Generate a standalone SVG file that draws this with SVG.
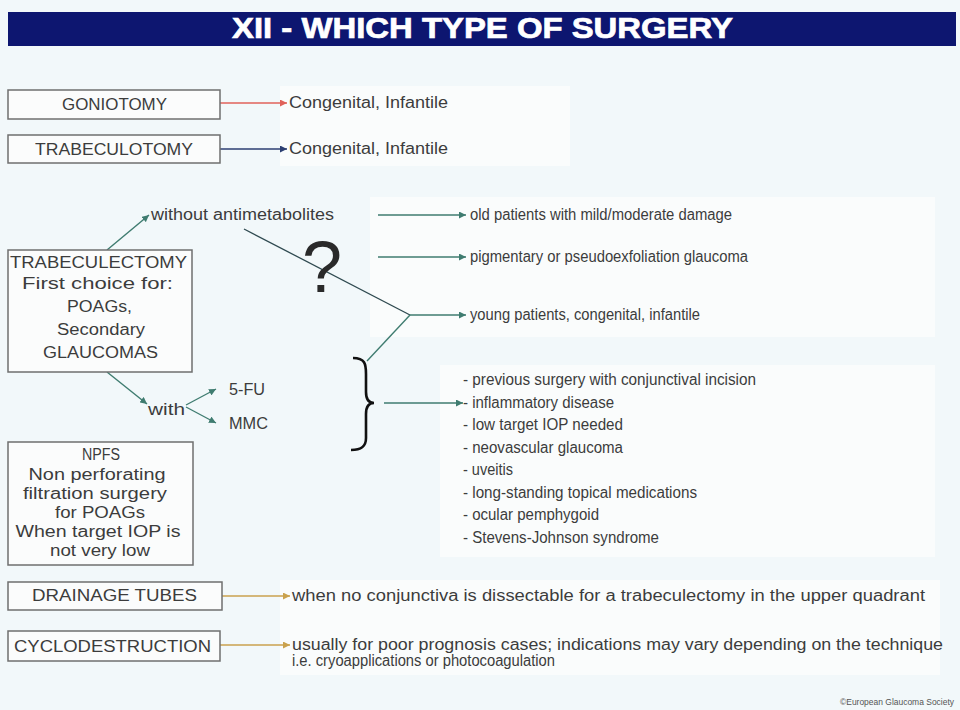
<svg xmlns="http://www.w3.org/2000/svg" width="960" height="710" viewBox="0 0 960 710">
<style>
  .bg { fill: #f2f8fa; }
  .pane { fill: #fafcfc; }
  .box { fill: #fbfcfc; stroke: #6f6f6f; stroke-width: 1.5; }
  .t { font-family: "Liberation Sans", Arial, sans-serif; font-size: 16px; fill: #3c3c3c; }
  .c { text-anchor: middle; }
  .title { font-family: "Liberation Sans", Arial, sans-serif; font-size: 30px; font-weight: bold; fill: #ffffff; stroke: #ffffff; stroke-width: 0.7; }
  .teal { stroke: #3f7c70; stroke-width: 1.4; fill: none; }
  .red { stroke: #e0625a; stroke-width: 1.4; fill: none; }
  .blue { stroke: #2c3f72; stroke-width: 1.4; fill: none; }
  .gold { stroke: #caa24e; stroke-width: 1.4; fill: none; }
  .dark { stroke: #2f4a50; stroke-width: 1.3; fill: none; }
</style>
<defs>
  <marker id="aTeal" viewBox="0 0 10 10" refX="10" refY="5" markerWidth="7" markerHeight="7" markerUnits="userSpaceOnUse" orient="auto"><path d="M0,0 L10,5 L0,10 z" fill="#3f7c70"/></marker>
  <marker id="aRed" viewBox="0 0 10 10" refX="10" refY="5" markerWidth="7" markerHeight="7" markerUnits="userSpaceOnUse" orient="auto"><path d="M0,0 L10,5 L0,10 z" fill="#e0625a"/></marker>
  <marker id="aBlue" viewBox="0 0 10 10" refX="10" refY="5" markerWidth="7" markerHeight="7" markerUnits="userSpaceOnUse" orient="auto"><path d="M0,0 L10,5 L0,10 z" fill="#2c3f72"/></marker>
  <marker id="aGold" viewBox="0 0 10 10" refX="10" refY="5" markerWidth="7" markerHeight="7" markerUnits="userSpaceOnUse" orient="auto"><path d="M0,0 L10,5 L0,10 z" fill="#caa24e"/></marker>
</defs>

<rect class="bg" x="0" y="0" width="960" height="710"/>
<rect class="pane" x="280" y="86" width="290" height="80"/>
<rect class="pane" x="370" y="197" width="565" height="140"/>
<rect class="pane" x="440" y="365" width="495" height="192"/>
<rect class="pane" x="280" y="580" width="660" height="95"/>

<g id="title">
  <rect x="8" y="12" width="948" height="34" fill="#0d1670"/>
  <text class="title" x="232" y="38" textLength="501" lengthAdjust="spacingAndGlyphs">XII - WHICH TYPE OF SURGERY</text>
</g>

<g id="connectors">
  <line class="red" x1="220" y1="103" x2="287" y2="103" marker-end="url(#aRed)"/>
  <line class="blue" x1="220" y1="149" x2="287" y2="149" marker-end="url(#aBlue)"/>
  <line class="teal" x1="107" y1="250" x2="149" y2="215" marker-end="url(#aTeal)"/>
  <line class="teal" x1="107" y1="372" x2="147" y2="404" marker-end="url(#aTeal)"/>
  <line class="teal" x1="186" y1="405" x2="216" y2="389" marker-end="url(#aTeal)"/>
  <line class="teal" x1="186" y1="407" x2="216" y2="423" marker-end="url(#aTeal)"/>
  <line class="dark" x1="244" y1="229" x2="410" y2="315"/>
  <line class="teal" x1="410" y1="315" x2="367" y2="361"/>
  <line class="teal" x1="378" y1="215" x2="466" y2="215" marker-end="url(#aTeal)"/>
  <line class="teal" x1="378" y1="257" x2="466" y2="257" marker-end="url(#aTeal)"/>
  <line class="teal" x1="410" y1="315" x2="466" y2="315" marker-end="url(#aTeal)"/>
  <line class="teal" x1="384" y1="403" x2="463" y2="403" marker-end="url(#aTeal)"/>
  <line class="gold" x1="222" y1="596" x2="290" y2="596" marker-end="url(#aGold)"/>
  <line class="gold" x1="220" y1="645" x2="290" y2="645" marker-end="url(#aGold)"/>
  <path d="M353,358 C365,358 366,364 366,374 L366,392 C366,399 368,403 374,403 C368,403 366,407 366,414 L366,438 C366,446 362,450 351,450" fill="none" stroke="#111" stroke-width="2.6"/>
</g>

<g id="goniotomy">
  <rect class="box" x="8" y="90" width="212" height="29"/>
  <text class="t" x="62" y="110" textLength="105" lengthAdjust="spacingAndGlyphs">GONIOTOMY</text>
</g>
<g id="goniotomy-result">
  <text class="t" x="289" y="108" textLength="159" lengthAdjust="spacingAndGlyphs">Congenital, Infantile</text>
</g>

<g id="trabeculotomy">
  <rect class="box" x="8" y="135" width="212" height="28"/>
  <text class="t" x="35" y="155" textLength="158" lengthAdjust="spacingAndGlyphs">TRABECULOTOMY</text>
</g>
<g id="trabeculotomy-result">
  <text class="t" x="289" y="154" textLength="159" lengthAdjust="spacingAndGlyphs">Congenital, Infantile</text>
</g>

<g id="trabeculectomy">
  <rect class="box" x="8" y="250" width="184" height="122"/>
  <text class="t" x="10" y="268" textLength="177" lengthAdjust="spacingAndGlyphs">TRABECULECTOMY</text>
  <text class="t" x="22" y="289" textLength="151" lengthAdjust="spacingAndGlyphs">First choice for:</text>
  <text class="t" x="67" y="312" textLength="65" lengthAdjust="spacingAndGlyphs">POAGs,</text>
  <text class="t" x="57" y="335" textLength="88" lengthAdjust="spacingAndGlyphs">Secondary</text>
  <text class="t" x="43" y="358" textLength="115" lengthAdjust="spacingAndGlyphs">GLAUCOMAS</text>
</g>

<g id="without">
  <text class="t" x="151" y="220" textLength="183" lengthAdjust="spacingAndGlyphs">without antimetabolites</text>
</g>
<g id="with">
  <text class="t" x="148" y="415" font-size="15" textLength="37" lengthAdjust="spacingAndGlyphs">with</text>
</g>
<g id="fu">
  <text class="t" x="229" y="395" textLength="36" lengthAdjust="spacingAndGlyphs">5-FU</text>
</g>
<g id="mmc">
  <text class="t" x="229" y="429" textLength="39" lengthAdjust="spacingAndGlyphs">MMC</text>
</g>

<g id="question">
  <text x="322" y="292" text-anchor="middle" font-family="Liberation Sans, Arial, sans-serif" font-size="72" fill="#2a2a2a">?</text>
</g>

<g id="old-patients">
  <text class="t" x="470" y="220" textLength="262" lengthAdjust="spacingAndGlyphs">old patients with mild/moderate damage</text>
</g>
<g id="pigmentary">
  <text class="t" x="470" y="262" textLength="278" lengthAdjust="spacingAndGlyphs">pigmentary or pseudoexfoliation glaucoma</text>
</g>
<g id="young">
  <text class="t" x="470" y="320" textLength="230" lengthAdjust="spacingAndGlyphs">young patients, congenital, infantile</text>
</g>

<g id="indications">
  <text class="t" x="463" y="385" textLength="293" lengthAdjust="spacingAndGlyphs">- previous surgery with conjunctival incision</text>
  <text class="t" x="463" y="408" textLength="151" lengthAdjust="spacingAndGlyphs">- inflammatory disease</text>
  <text class="t" x="463" y="430" textLength="160" lengthAdjust="spacingAndGlyphs">- low target IOP needed</text>
  <text class="t" x="463" y="453" textLength="160" lengthAdjust="spacingAndGlyphs">- neovascular glaucoma</text>
  <text class="t" x="463" y="475" textLength="50" lengthAdjust="spacingAndGlyphs">- uveitis</text>
  <text class="t" x="463" y="498" textLength="234" lengthAdjust="spacingAndGlyphs">- long-standing topical medications</text>
  <text class="t" x="463" y="520" textLength="136" lengthAdjust="spacingAndGlyphs">- ocular pemphygoid</text>
  <text class="t" x="463" y="543" textLength="196" lengthAdjust="spacingAndGlyphs">- Stevens-Johnson syndrome</text>
</g>

<g id="npfs">
  <rect class="box" x="8" y="442" width="185" height="123"/>
  <text class="t c" x="101" y="460" textLength="38" lengthAdjust="spacingAndGlyphs">NPFS</text>
  <text class="t c" x="97" y="480" textLength="137" lengthAdjust="spacingAndGlyphs">Non perforating</text>
  <text class="t c" x="95" y="499" textLength="144" lengthAdjust="spacingAndGlyphs">filtration surgery</text>
  <text class="t c" x="100" y="518" textLength="90" lengthAdjust="spacingAndGlyphs">for POAGs</text>
  <text class="t c" x="98" y="537" textLength="165" lengthAdjust="spacingAndGlyphs">When target IOP is</text>
  <text class="t c" x="100" y="556" textLength="100" lengthAdjust="spacingAndGlyphs">not very low</text>
</g>

<g id="drainage">
  <rect class="box" x="8" y="582" width="214" height="28"/>
  <text class="t" x="32" y="601" textLength="165" lengthAdjust="spacingAndGlyphs">DRAINAGE TUBES</text>
</g>
<g id="drainage-result">
  <text class="t" x="292" y="601" textLength="633" lengthAdjust="spacingAndGlyphs">when no conjunctiva is dissectable for a trabeculectomy in the upper quadrant</text>
</g>

<g id="cyclodestruction">
  <rect class="box" x="8" y="631" width="212" height="30"/>
  <text class="t" x="14" y="652" textLength="197" lengthAdjust="spacingAndGlyphs">CYCLODESTRUCTION</text>
</g>
<g id="cyclodestruction-result">
  <text class="t" x="292" y="650" textLength="651" lengthAdjust="spacingAndGlyphs">usually for poor prognosis cases; indications may vary depending on the technique</text>
  <text class="t" x="292" y="666" font-size="15" textLength="263" lengthAdjust="spacingAndGlyphs">i.e. cryoapplications or photocoagulation</text>
</g>

<text x="840" y="705" font-family="Liberation Sans, Arial, sans-serif" font-size="9" fill="#555" textLength="114" lengthAdjust="spacingAndGlyphs">©European Glaucoma Society</text>
</svg>
